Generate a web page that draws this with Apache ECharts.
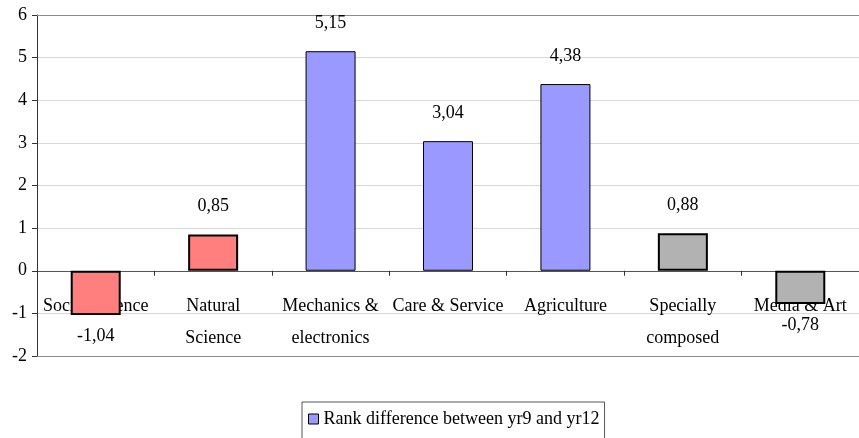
<!DOCTYPE html>
<html>
<head>
<meta charset="utf-8">
<script src="https://cdn.jsdelivr.net/npm/echarts@6/dist/echarts.min.js"></script>
<style>
  html, body { margin: 0; padding: 0; background: #fff; }
  #chart { width: 859px; height: 438px; }
</style>
</head>
<body>
<div id="chart"></div>
<script>
// Study programme categories along the horizontal axis
const categories = [
  'Social Science',
  'Natural\nScience',
  'Mechanics &\nelectronics',
  'Care & Service',
  'Agriculture',
  'Specially\ncomposed',
  'Media & Art'
];
// Rank difference between year 9 and year 12, per programme
const rankDiff = [-1.04, 0.85, 5.15, 3.04, 4.38, 0.88, -0.78];
// Fill colour group per programme
const groups = ['pink', 'pink', 'blue', 'blue', 'blue', 'grey', 'grey'];
const yTicks = { min: -2, max: 6, step: 1 };
const seriesName = 'Rank difference between yr9 and yr12';

const FONT = '"Liberation Serif", "DejaVu Serif", serif';
const FS = 18;
const groupStyle = {
  pink: { color: '#FF7F7F', borderColor: '#000', borderWidth: 2 },
  blue: { color: '#9999FF', borderColor: '#000', borderWidth: 1 },
  grey: { color: '#B2B2B2', borderColor: '#000', borderWidth: 2 }
};

const data = rankDiff.map((v, i) => ({
  value: v,
  itemStyle: groupStyle[groups[i]],
  label: v < 0 ? { position: 'bottom', distance: 12 } : { position: 'top', distance: 19 }
}));

// Plot box geometry; the category axis is lifted from the bottom edge up to y = 0
const gridTop = 15, gridHeight = 341;
const zeroOffset = -gridHeight * (0 - yTicks.min) / (yTicks.max - yTicks.min);

const chart = echarts.init(document.getElementById('chart'), null, { renderer: 'canvas' });
chart.setOption({
  animation: false,
  backgroundColor: '#fff',
  textStyle: { fontFamily: FONT },
  grid: { left: 37, top: gridTop, width: 835, height: gridHeight },
  legend: {
    data: [seriesName],
    left: 302, top: 402,
    padding: [8, 5, 14, 6],
    borderColor: '#555', borderWidth: 1,
    itemWidth: 10, itemHeight: 10, itemGap: 6,
    icon: 'rect',
    itemStyle: { color: '#9999FF', borderColor: '#000', borderWidth: 1 },
    textStyle: { fontFamily: FONT, fontSize: FS, color: '#000' }
  },
  xAxis: {
    type: 'category',
    data: categories,
    position: 'bottom',
    offset: zeroOffset,
    axisLine: { onZero: false, lineStyle: { color: '#555', width: 1 } },
    axisTick: { show: true, alignWithLabel: false, length: 5, lineStyle: { color: '#333' } },
    axisLabel: {
      interval: 0, margin: 20, color: '#000',
      fontFamily: FONT, fontSize: FS, lineHeight: 32
    },
    splitLine: { show: false }
  },
  yAxis: {
    type: 'value',
    min: yTicks.min, max: yTicks.max, interval: yTicks.step,
    axisLine: { show: true, lineStyle: { color: '#333', width: 1 } },
    axisTick: { show: true, length: 5, lineStyle: { color: '#333' } },
    axisLabel: { margin: 10, color: '#000', fontFamily: FONT, fontSize: FS },
    splitLine: { show: true, lineStyle: { color: '#d9d9d9', width: 1 } }
  },
  series: [{
    name: seriesName,
    type: 'bar',
    barWidth: 50,
    itemStyle: { color: '#9999FF', borderColor: '#000', borderWidth: 1 },
    label: {
      show: true, color: '#000', fontFamily: FONT, fontSize: FS,
      formatter: p => p.value.toFixed(2).replace('.', ',')
    },
    // darker frame lines along the bottom and top of the plot box
    markLine: {
      silent: true, symbol: 'none', z: 1,
      label: { show: false },
      lineStyle: { color: '#8c8c8c', type: 'solid', width: 1 },
      emphasis: { disabled: true },
      data: [{ yAxis: yTicks.min }, { yAxis: yTicks.max }]
    },
    data: data
  }]
});
</script>
</body>
</html>
